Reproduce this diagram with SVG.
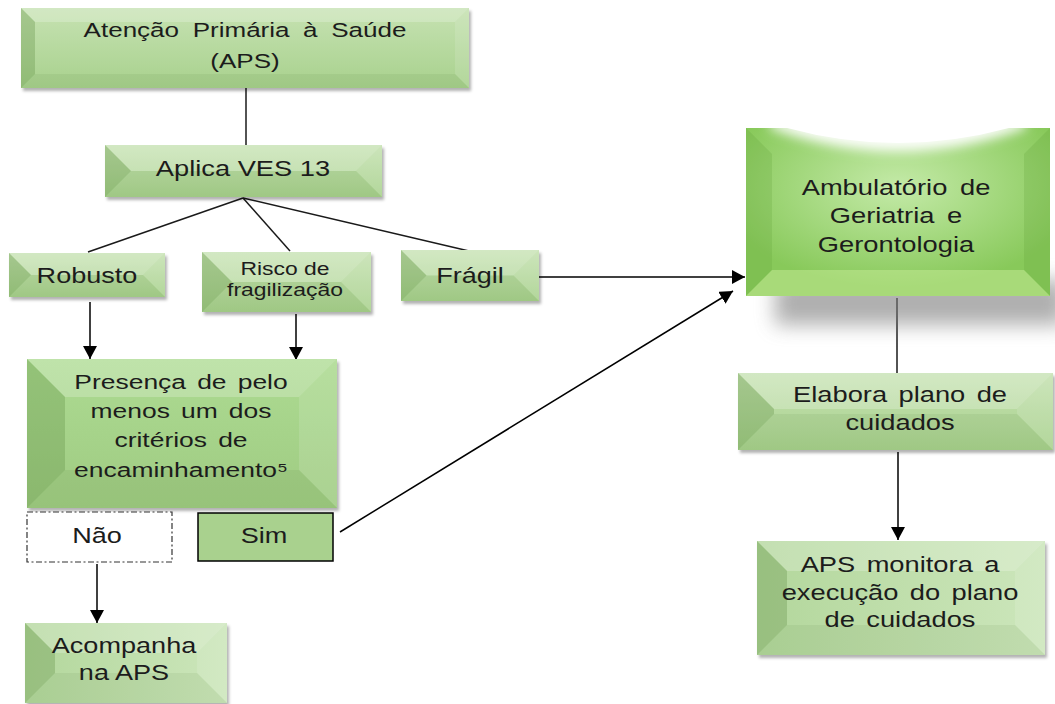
<svg xmlns="http://www.w3.org/2000/svg" width="1055" height="704" viewBox="0 0 1055 704">
<style>
.t{font-family:"Liberation Sans",Arial,sans-serif;font-size:21.5px;fill:#1c1c1c;text-anchor:middle}
.wl{fill:#5f8f45;opacity:.32}
.wr{fill:#ffffff;opacity:.12}
.wt{fill:#ffffff;opacity:.22}
.wb{fill:#3d6b2a;opacity:.08}
.ln{stroke:#1a1a1a;stroke-width:1.5;fill:none}
.ar{stroke:#000;stroke-width:1.5;fill:none;marker-end:url(#ah)}
</style>
<defs>
<marker id="ah" markerUnits="userSpaceOnUse" markerWidth="14" markerHeight="14" refX="13" refY="7" orient="auto">
<path d="M0,0 L13,7 L0,14 z" fill="#000"/>
</marker>
<linearGradient id="gA" x1="0" y1="0" x2="0" y2="1"><stop offset="0" stop-color="#c6e2b2"/><stop offset="1" stop-color="#a8d18d"/></linearGradient>
<linearGradient id="gB" x1="0" y1="0" x2="0" y2="1"><stop offset="0" stop-color="#addb92"/><stop offset="1" stop-color="#9fcb82"/></linearGradient>
<linearGradient id="gC" x1="0" y1="0" x2="1" y2="0"><stop offset="0" stop-color="#b3d79c"/><stop offset="1" stop-color="#cce6bb"/></linearGradient>
<radialGradient id="gAmb" cx="0.5" cy="0.35" r="0.6"><stop offset="0" stop-color="#c4eaa8"/><stop offset="1" stop-color="#88c95a"/></radialGradient>
<clipPath id="cAmb"><rect x="746" y="128" width="304" height="168"/></clipPath>
<filter id="sh" x="-10%" y="-10%" width="125%" height="140%"><feDropShadow dx="2" dy="3" stdDeviation="1.5" flood-color="#000" flood-opacity="0.3"/></filter>
<filter id="bl" x="-30%" y="-50%" width="160%" height="200%"><feGaussianBlur stdDeviation="10"/></filter>
<filter id="bl2" x="-20%" y="-50%" width="140%" height="200%"><feGaussianBlur stdDeviation="6"/></filter>
</defs>
<rect width="1055" height="704" fill="#ffffff"/>

<g id="connectors">
<line class="ln" x1="246" y1="88" x2="246" y2="145"/>
<line class="ln" x1="243" y1="198" x2="88" y2="252"/>
<line class="ln" x1="243" y1="198" x2="290" y2="251"/>
<line class="ln" x1="243" y1="198" x2="469" y2="251"/>
<line class="ar" x1="90" y1="302" x2="90" y2="359"/>
<line class="ar" x1="296" y1="314" x2="296" y2="360"/>
<line class="ar" x1="97" y1="564" x2="97" y2="623"/>
<line class="ar" x1="539" y1="277" x2="745" y2="277"/>
<line class="ar" x1="340" y1="532" x2="733" y2="291"/>
<line class="ln" x1="897" y1="298" x2="897" y2="373"/>
<line class="ar" x1="898" y1="452" x2="898" y2="540"/>
</g>

<g id="aps">
<g filter="url(#sh)"><rect x="21" y="8" width="448" height="80" fill="url(#gA)"/></g>
<polygon class="wt" points="21,8 469,8 455,22 35,22"/>
<polygon class="wl" points="21,8 35,22 35,74 21,88"/>
<polygon class="wr" points="469,8 469,88 455,74 455,22"/>
<polygon class="wb" points="21,88 35,74 455,74 469,88"/>
<text class="t" style="font-size:20.5px;word-spacing:5px" transform="translate(245,0) scale(1.27,1)"><tspan x="0" y="37">Atenção Primária à Saúde</tspan><tspan x="0" y="68">(APS)</tspan></text>
</g>

<g id="aplica">
<g filter="url(#sh)"><rect x="105" y="145" width="277" height="52" fill="url(#gA)"/></g>
<polygon class="wt" points="105,145 382,145 356,171 131,171"/>
<polygon class="wl" points="105,145 131,171 105,197"/>
<polygon class="wr" points="382,145 382,197 356,171"/>
<polygon class="wb" points="105,197 131,171 356,171 382,197"/>
<text class="t" style="font-size:22px" transform="translate(243,0) scale(1.24,1)"><tspan x="0" y="176">Aplica VES 13</tspan></text>
</g>

<g id="robusto">
<g filter="url(#sh)"><rect x="9" y="253" width="156" height="44" fill="url(#gA)"/></g>
<polygon class="wt" points="9,253 165,253 143,275 31,275"/>
<polygon class="wl" points="9,253 31,275 9,297"/>
<polygon class="wr" points="165,253 165,297 143,275"/>
<polygon class="wb" points="9,297 31,275 143,275 165,297"/>
<text class="t" transform="translate(87,0) scale(1.26,1)"><tspan x="0" y="283">Robusto</tspan></text>
</g>

<g id="risco">
<g filter="url(#sh)"><rect x="202" y="252" width="169" height="60" fill="url(#gA)"/></g>
<polygon class="wt" points="202,252 371,252 341,282 232,282"/>
<polygon class="wl" points="202,252 232,282 202,312"/>
<polygon class="wr" points="371,252 371,312 341,282"/>
<polygon class="wb" points="202,312 232,282 341,282 371,312"/>
<text class="t" style="font-size:18.5px" transform="translate(285,0) scale(1.24,1)"><tspan x="0" y="275">Risco de</tspan><tspan x="0" y="296">fragilização</tspan></text>
</g>

<g id="fragil">
<g filter="url(#sh)"><rect x="401" y="250" width="138" height="51" fill="url(#gA)"/></g>
<polygon class="wt" points="401,250 539,250 513.5,275.5 426.5,275.5"/>
<polygon class="wl" points="401,250 426.5,275.5 401,301"/>
<polygon class="wr" points="539,250 539,301 513.5,275.5"/>
<polygon class="wb" points="401,301 426.5,275.5 513.5,275.5 539,301"/>
<text class="t" transform="translate(470,0) scale(1.26,1)"><tspan x="0" y="283">Frágil</tspan></text>
</g>

<g id="presenca">
<g filter="url(#sh)"><rect x="27" y="359" width="310" height="149" fill="url(#gB)"/></g>
<polygon class="wt" points="27,359 337,359 299,397 65,397"/>
<polygon class="wl" points="27,359 65,397 65,470 27,508"/>
<polygon class="wr" points="337,359 337,508 299,470 299,397"/>
<polygon class="wb" points="27,508 65,470 299,470 337,508"/>
<text class="t" style="font-size:21px;word-spacing:3px" transform="translate(181,0) scale(1.26,1)"><tspan x="0" y="389">Presença de pelo</tspan><tspan x="0" y="418">menos um dos</tspan><tspan x="0" y="447">critérios de</tspan><tspan x="0" y="477">encaminhamento⁵</tspan></text>
</g>

<g id="nao">
<rect x="27" y="512" width="145" height="50" fill="#ffffff" stroke="#333" stroke-width="1.2" stroke-dasharray="6 2.5 2 2.5"/>
<text class="t" transform="translate(97,0) scale(1.26,1)"><tspan x="0" y="543">Não</tspan></text>
</g>

<g id="sim">
<rect x="198" y="513" width="135" height="48" fill="#a9d18e" stroke="#000" stroke-width="1.5"/>
<text class="t" transform="translate(264,0) scale(1.26,1)"><tspan x="0" y="543">Sim</tspan></text>
</g>

<g id="acompanha">
<g filter="url(#sh)"><rect x="25" y="623" width="202" height="80" fill="url(#gC)"/></g>
<polygon class="wt" points="25,623 227,623 197,653 55,653"/>
<polygon class="wl" points="25,623 55,653 55,673 25,703"/>
<polygon class="wr" points="227,623 227,703 197,673 197,653"/>
<polygon class="wb" points="25,703 55,673 197,673 227,703"/>
<text class="t" transform="translate(124,0) scale(1.26,1)"><tspan x="0" y="653">Acompanha</tspan><tspan x="0" y="680">na APS</tspan></text>
</g>

<g id="ambulatorio">
<rect x="775" y="280" width="290" height="45" fill="#7a7a7a" opacity="0.6" filter="url(#bl)"/>
<rect x="746" y="128" width="304" height="168" fill="url(#gAmb)"/>
<polygon points="746,128 772,154 772,270 746,296" fill="#5f9e35" opacity="0.22"/>
<polygon points="1050,128 1050,296 1024,270 1024,154" fill="#5f9e35" opacity="0.22"/>
<polygon points="746,296 772,270 1024,270 1050,296" fill="#c8ec98" opacity="0.5"/>
<g clip-path="url(#cAmb)">
<path d="M770,120 L1026,120 L1026,128 Q898,175 770,128 Z" fill="#ffffff" opacity="0.95" filter="url(#bl2)"/>
<path d="M780,126 L1016,126 Q898,160 780,126 Z" fill="#ffffff"/>
</g>
<text class="t" style="word-spacing:4px" transform="translate(896,0) scale(1.27,1)"><tspan x="0" y="195">Ambulatório de</tspan><tspan x="0" y="223">Geriatria e</tspan><tspan x="0" y="252">Gerontologia</tspan></text>
</g>

<g id="elabora">
<g filter="url(#sh)"><rect x="738" y="373" width="315" height="77" fill="url(#gA)"/></g>
<polygon class="wt" points="738,373 1053,373 1017,409 774,409"/>
<polygon class="wl" points="738,373 774,409 774,414 738,450"/>
<polygon class="wr" points="1053,373 1053,450 1017,414 1017,409"/>
<polygon class="wb" points="738,450 774,414 1017,414 1053,450"/>
<text class="t" style="word-spacing:3px" transform="translate(900,0) scale(1.27,1)"><tspan x="0" y="402">Elabora plano de</tspan><tspan x="0" y="430">cuidados</tspan></text>
</g>

<g id="monitora">
<g filter="url(#sh)"><rect x="757" y="541" width="288" height="114" fill="url(#gC)"/></g>
<polygon class="wt" points="757,541 1045,541 1015,571 787,571"/>
<polygon class="wl" points="757,541 787,571 787,625 757,655"/>
<polygon class="wr" points="1045,541 1045,655 1015,625 1015,571"/>
<polygon class="wb" points="757,655 787,625 1015,625 1045,655"/>
<text class="t" style="word-spacing:3px" transform="translate(900,0) scale(1.27,1)"><tspan x="0" y="572">APS monitora a</tspan><tspan x="0" y="600">execução do plano</tspan><tspan x="0" y="627">de cuidados</tspan></text>
</g>
</svg>
